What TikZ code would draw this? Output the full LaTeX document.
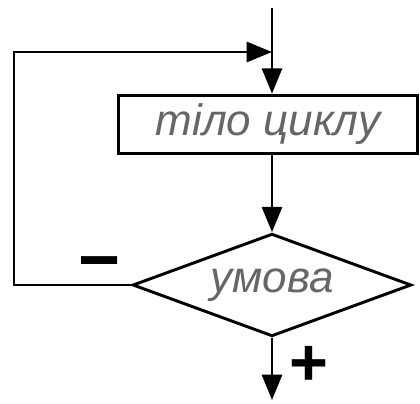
\documentclass[tikz,border=0pt]{standalone}
\usepackage{fontspec}
\setmainfont{Liberation Sans}
\usetikzlibrary{shapes.geometric,arrows.meta}
\begin{document}
\begin{tikzpicture}[x=0.75pt,y=-0.75pt,line width=2.2pt,
  arr/.style={-{Triangle[length=19pt,width=15pt]}},
  lbl/.style={text=black!60,font=\itshape\fontsize{33}{38}\selectfont},
  sign/.style={font=\bfseries\fontsize{50}{54}\selectfont,inner sep=0pt},
  body/.style={draw,minimum width=224pt,minimum height=44pt,inner sep=0pt,lbl},
  cond/.style={draw,diamond,aspect=2.7,minimum width=209pt,minimum height=77pt,inner sep=0pt,lbl}]
\useasboundingbox (0,0) rectangle (420,403);
% flowchart of a post-condition loop
\coordinate (start) at (272,8);
\coordinate (join) at (272,52);
\coordinate (corner) at (14,52);
\coordinate (finish) at (272,400);
\node[body] (r) at (268,124.5) {тіло циклу};
\node[cond] (d) at (272,285) {умова};
\draw (start) -- (join);
\draw[arr] (join) -- (join |- r.north);
\draw[arr] (join |- r.south) -- (d.north);
\draw[arr] (d.west) -| (corner) -- (join);
\draw[arr] (d.south) -- (finish);
\node[sign,font=\bfseries\fontsize{54}{58}\selectfont] (minus) at (100,271) {−};
\node[sign] (plus) at (309,366) {+};
\end{tikzpicture}
\end{document}
